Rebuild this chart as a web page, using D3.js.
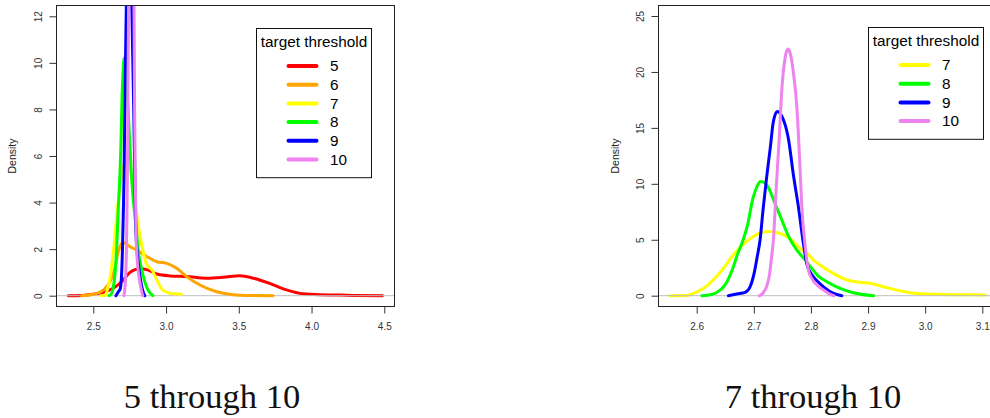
<!DOCTYPE html>
<html>
<head>
<meta charset="utf-8">
<script src="https://cdn.jsdelivr.net/npm/d3@7"></script>
<style>
  body{margin:0;background:#fff;}
  text{font-family:"Liberation Sans",Arial,sans-serif;}
  text.caption{font-family:"Liberation Serif","Times New Roman",serif;}
</style>
</head>
<body>
<script>
// density curves (x = value, y = density)
const x5 = [2.328, 2.42, 2.5, 2.569, 2.637, 2.695, 2.752, 2.82, 2.878, 2.936, 3.027, 3.142, 3.279, 3.393, 3.508, 3.6, 3.712, 3.828, 3.942, 4.058, 4.194, 4.3, 4.488];
const y5 = [0, 0.01, 0.06, 0.15, 0.32, 0.6, 1.0, 1.16, 1.1, 0.93, 0.85, 0.82, 0.75, 0.79, 0.86, 0.75, 0.53, 0.25, 0.08, 0.04, 0.03, 0.01, 0];

const x6 = [2.42, 2.5, 2.569, 2.615, 2.649, 2.672, 2.69, 2.705, 2.73, 2.76, 2.798, 2.867, 2.936, 3.004, 3.073, 3.142, 3.233, 3.348, 3.45, 3.508, 3.736];
const y6 = [0, 0.06, 0.24, 0.6, 1.18, 1.89, 2.2, 2.28, 2.2, 2.08, 1.96, 1.68, 1.46, 1.39, 1.18, 0.82, 0.46, 0.17, 0.05, 0.02, 0];

const x7 = [2.553, 2.583, 2.594, 2.612, 2.629, 2.647, 2.664, 2.682, 2.694, 2.708, 2.726, 2.743, 2.758, 2.770, 2.781, 2.793, 2.804, 2.816, 2.839, 2.863, 2.886, 2.904, 2.927, 2.950, 2.974, 3.003, 3.030, 3.070, 3.105];
const y7 = [0, 0.02, 0.2, 0.66, 1.4, 2.45, 3.64, 4.6, 5.1, 5.55, 5.73, 5.6, 5.28, 4.8, 4.24, 3.8, 3.2, 2.75, 2.0, 1.4, 1.2, 1.1, 0.8, 0.5, 0.27, 0.15, 0.1, 0.08, 0.06];

const x8 = [2.609, 2.626, 2.641, 2.647, 2.653, 2.663, 2.671, 2.680, 2.689, 2.698, 2.706, 2.712, 2.719, 2.726, 2.737, 2.749, 2.761, 2.775, 2.790, 2.802, 2.812, 2.828, 2.851, 2.874, 2.91];
const y8 = [0, 0.1, 0.5, 0.8, 1.25, 2.4, 3.64, 4.8, 6.3, 8.6, 9.8, 10.2, 10.1, 9.6, 8.26, 6.77, 5.28, 4.09, 3.2, 2.4, 1.8, 1.25, 0.66, 0.27, 0];

const x9 = [2.6555, 2.670, 2.685, 2.6935, 2.7005, 2.706, 2.711, 2.716, 2.722, 2.729, 2.734, 2.741, 2.752, 2.761, 2.769, 2.778, 2.787, 2.793, 2.802, 2.815, 2.831, 2.845, 2.854];
const y9 = [0, 0.15, 0.3, 0.8, 2.0, 3.5, 5.0, 7.6, 10.4, 13.3, 15.5, 16.46, 15.7, 13.9, 10.9, 7.96, 4.6, 2.8, 1.85, 1.1, 0.45, 0.12, 0];

const x10 = [2.710, 2.717, 2.723, 2.7275, 2.731, 2.7343, 2.739, 2.7443, 2.749, 2.754, 2.7595, 2.7645, 2.7694, 2.7753, 2.780, 2.784, 2.790, 2.7956, 2.802, 2.813, 2.825, 2.835, 2.840];
const y10 = [0, 0.3, 0.9, 1.9, 3.4, 5.0, 9.45, 13.9, 18.4, 21.0, 22.04, 21.5, 19.9, 16.9, 12.4, 7.96, 4.38, 2.3, 1.5, 0.85, 0.4, 0.1, 0];

const leftThresholds = [5, 6, 7, 8, 9, 10];
const rightThresholds = [7, 8, 9, 10];
const leftXTicks = [2.5, 3.0, 3.5, 4.0, 4.5];
const leftYTicks = [0, 2, 4, 6, 8, 10, 12];
const rightXTicks = [2.6, 2.7, 2.8, 2.9, 3.0, 3.1];
const rightYTicks = [0, 5, 10, 15, 20, 25];
const captions = ["5 through 10", "7 through 10"];
const legendTitle = "target threshold";
const yLabel = "Density";

const curveX = {5:x5, 6:x6, 7:x7, 8:x8, 9:x9, 10:x10};
const curveY = {5:y5, 6:y6, 7:y7, 8:y8, 9:y9, 10:y10};
const colors = {5:"#ff0000", 6:"#ffa500", 7:"#ffff00", 8:"#00ff00", 9:"#0000ff", 10:"#ee82ee"};

let svg = d3.select("body").append("svg")
    .attr("width", 990)
    .attr("height", 418);

//panel layouts: scales from tick positions, box = plot frame
let panels = [
  {id:"L", series:leftThresholds, xTicks:leftXTicks, yTicks:leftYTicks,
   xDom:[2.5, 4.5], xRange:[93.3, 384.3], yDom:[0, 12], yRange:[295.7, 16.3],
   box:[56.5, 5.5, 394.5, 306.5], dens:16, legend:[256.5, 28.5, 115], caption:212, fmtX:".1f"},
  {id:"R", series:rightThresholds, xTicks:rightXTicks, yTicks:rightYTicks,
   xDom:[2.6, 3.1], xRange:[696.7, 982.3], yDom:[0, 25], yRange:[295.7, 16],
   box:[658.5, 5.5, 1005, 306.5], dens:619, legend:[868.5, 27.5, 115], caption:813, fmtX:".1f"}
];

function drawPanel(p, k){
  let x = d3.scaleLinear().domain(p.xDom).range(p.xRange);
  let y = d3.scaleLinear().domain(p.yDom).range(p.yRange);
  let g = svg.append("g");

  svg.append("clipPath").attr("id", "clip" + p.id)
    .append("rect")
      .attr("x", p.box[0]).attr("y", p.box[1])
      .attr("width", p.box[2] - p.box[0]).attr("height", p.box[3] - p.box[1]);

  let plot = g.append("g").attr("clip-path", "url(#clip" + p.id + ")");
  let line = d3.line()
      .x(d => x(d[0]))
      .y(d => y(d[1]))
      .curve(d3.curveMonotoneX);

  p.series.forEach((t, i) => {
    plot.append("path")
      .datum(d3.zip(curveX[t], curveY[t]))
      .attr("d", line)
      .attr("fill", "none")
      .attr("stroke", colors[t])
      .attr("stroke-width", 3)
      .attr("stroke-linejoin", "round")
      .attr("stroke-linecap", "round");
    // zero line goes on after the first curve, like plot.density does
    if(i == 0){
      plot.append("line")
        .attr("x1", p.box[0]).attr("x2", p.box[2])
        .attr("y1", y(0)).attr("y2", y(0))
        .attr("stroke", "#bebebe")
        .attr("stroke-width", 1);
    }
  });

  // frame
  g.append("rect")
    .attr("x", p.box[0]).attr("y", p.box[1])
    .attr("width", p.box[2] - p.box[0]).attr("height", p.box[3] - p.box[1])
    .attr("fill", "none").attr("stroke", "#222").attr("stroke-width", 1);

  // axes
  let xa = g.append("g")
    .attr("transform", "translate(0," + p.box[3] + ")")
    .call(d3.axisBottom(x).tickValues(p.xTicks).tickFormat(d3.format(p.fmtX)).tickSize(7).tickPadding(9));
  let ya = g.append("g")
    .attr("transform", "translate(" + p.box[0] + ",0)")
    .call(d3.axisLeft(y).tickValues(p.yTicks).tickFormat(d3.format("d")).tickSize(7));
  ya.selectAll("text")
    .attr("transform", "rotate(-90)")
    .attr("text-anchor", "middle")
    .attr("x", 0).attr("y", -15).attr("dy", 0);
  [xa, ya].forEach(a => {
    a.select(".domain").remove();
    a.selectAll("line").attr("stroke", "#333");
    a.selectAll("text").attr("font-size", 10).attr("fill", "#333");
  });

  g.append("text")
    .attr("transform", "translate(" + p.dens + "," + (p.box[1] + p.box[3]) / 2 + ") rotate(-90)")
    .attr("text-anchor", "middle")
    .attr("font-size", 10.5)
    .attr("fill", "#222")
    .text(yLabel);

  // legend
  let lx = p.legend[0], ly = p.legend[1], lw = p.legend[2];
  let step = 18.7;
  let lg = g.append("g");
  lg.append("rect")
    .attr("x", lx).attr("y", ly)
    .attr("width", lw).attr("height", 37 + p.series.length * step)
    .attr("fill", "#fff").attr("stroke", "#111").attr("stroke-width", 1);
  lg.append("text")
    .attr("x", lx + lw / 2).attr("y", ly + 18)
    .attr("text-anchor", "middle")
    .attr("font-size", 15.3)
    .attr("fill", "#000")
    .text(legendTitle);
  let items = lg.selectAll(".item").data(p.series).enter()
    .append("g").attr("class", "item")
    .attr("transform", (d, i) => "translate(" + lx + "," + (ly + 37.5 + i * step) + ")");
  items.append("line")
    .attr("x1", 32).attr("x2", 60)
    .attr("stroke", d => colors[d])
    .attr("stroke-width", 4)
    .attr("stroke-linecap", "round");
  items.append("text")
    .attr("x", 73.5).attr("dy", "0.35em")
    .attr("font-size", 15.3)
    .attr("fill", "#000")
    .text(d => d);

  svg.append("text")
    .attr("class", "caption")
    .attr("x", p.caption).attr("y", 408)
    .attr("text-anchor", "middle")
    .attr("font-size", 34.5)
    .attr("fill", "#111")
    .text(captions[k]);
}

panels.forEach(drawPanel);
</script>
</body>
</html>
